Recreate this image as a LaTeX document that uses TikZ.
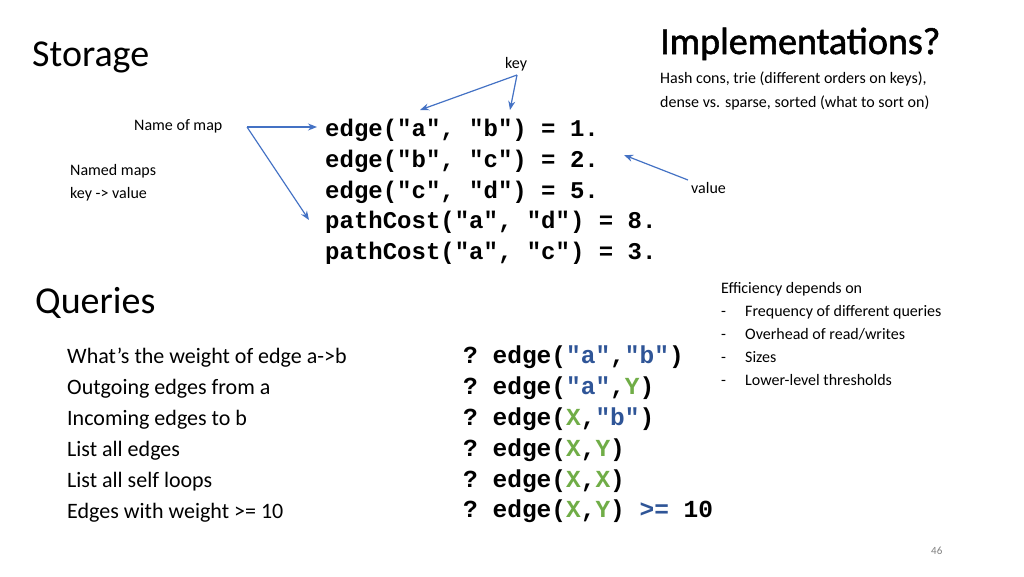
\documentclass[tikz,border=0pt]{standalone}
\usepackage{fontspec}
\setmainfont{Carlito}
\setmonofont{Liberation Mono}
\usetikzlibrary{arrows.meta,positioning}
\definecolor{strblue}{RGB}{47,85,151}
\definecolor{arrblue}{RGB}{68,114,196}
\definecolor{vargreen}{RGB}{112,173,71}
\newcommand{\qs}[1]{\textcolor{strblue}{#1}}
\newcommand{\qv}[1]{\textcolor{vargreen}{#1}}

\begin{document}
\begin{tikzpicture}
[
                     x = 1pt,
                     y = -1pt,
            title/.style = { anchor=base west, inner sep=0pt, font=\fontsize{38}{44}\selectfont },
            small/.style = { anchor=base west, inner sep=0pt, font=\fontsize{16}{20}\selectfont, align=left },
             code/.style = { anchor=base west, inner sep=0pt, font=\ttfamily\bfseries\fontsize{24}{28}\selectfont },
            query/.style = { anchor=base west, inner sep=0pt, font=\ttfamily\bfseries\fontsize{24.5}{28}\selectfont },
            qtext/.style = { anchor=base west, inner sep=0pt, font=\fontsize{22}{26}\selectfont },
              arr/.style = { draw=arrblue, line width=1.2pt, -{Stealth[length=9pt,width=7pt]} }
]
	\useasboundingbox (0,0) rectangle (1024,576);

	% headings
	\node (storage) at (32,66) [title] {Storage};
	\node (queries) at (35,313) [title] {Queries};
	\node (impl) at (660,54) [title, font=\fontsize{38}{44}\selectfont\addfontfeature{FakeBold=1.5}] {Implementations?};
	\node (impl1) at (660,83) [small] {Hash cons, trie (different orders on keys),};
	\node (impl2) at (660,107) [small] {dense vs. sparse, sorted (what to sort on)};

	% storage facts
	\node (e1) at (325,136) [code] {edge("a", "b") = 1.};
	\node (e2) at (325,167) [code] {edge("b", "c") = 2.};
	\node (e3) at (325,198) [code] {edge("c", "d") = 5.};
	\node (p1) at (325,228) [code] {pathCost("a", "d") = 8.};
	\node (p2) at (325,259) [code] {pathCost("a", "c") = 3.};

	\node (name) at (134,130) [small] {Name of map};
	\node (named) at (70,175) [small] {Named maps};
	\node (kv) at (70,198) [small] {key -> value};
	\node (key) at (505,68) [small] {key};
	\node (value) at (691,193) [small] {value};

	\coordinate (ka) at (420,110);
	\coordinate (kb) at (510,110);
	\coordinate (vd) at (624,155);
	\coordinate (nm) at (247,127);
	\coordinate (ky) at (517,75);
	\coordinate (vl) at (688,180);

	\draw[arr] (nm) -- (317,127);
	\draw[arr] (nm) -- (309,220);
	\draw[arr] (ky) -- (ka);
	\draw[arr] (ky) -- (kb);
	\draw[arr] (vl) -- (vd);

	% queries
	\node (q1) at (67,363) [qtext] {What’s the weight of edge a->b};
	\node (q2) at (67,394) [qtext] {Outgoing edges from a};
	\node (q3) at (67,425) [qtext] {Incoming edges to b};
	\node (q4) at (67,456) [qtext] {List all edges};
	\node (q5) at (67,487) [qtext] {List all self loops};
	\node (q6) at (67,518) [qtext] {Edges with weight >= 10};

	\node (c1) at (463,363) [query] {? edge(\qs{"a"},\qs{"b"})};
	\node (c2) at (463,394) [query] {? edge(\qs{"a"},\qv{Y})};
	\node (c3) at (463,425) [query] {? edge(\qv{X},\qs{"b"})};
	\node (c4) at (463,456) [query] {? edge(\qv{X},\qv{Y})};
	\node (c5) at (463,487) [query] {? edge(\qv{X},\qv{X})};
	\node (c6) at (463,517) [query] {? edge(\qv{X},\qv{Y}) \qs{>=} 10};

	% efficiency
	\node (eff) at (721,293) [small] {Efficiency depends on};
	\foreach \lbl [count=\i] in {Frequency of different queries, Overhead of read/writes, Sizes, Lower-level thresholds}
	{
		\node (d\i) at (721,293+23*\i) [small] {-};
		\node (f\i) at (745,293+23*\i) [small] {\lbl};
	}

	\node (pg) at (931,554) [small, font=\fontsize{11}{13}\selectfont, text=gray] {46};
\end{tikzpicture}
\end{document}
